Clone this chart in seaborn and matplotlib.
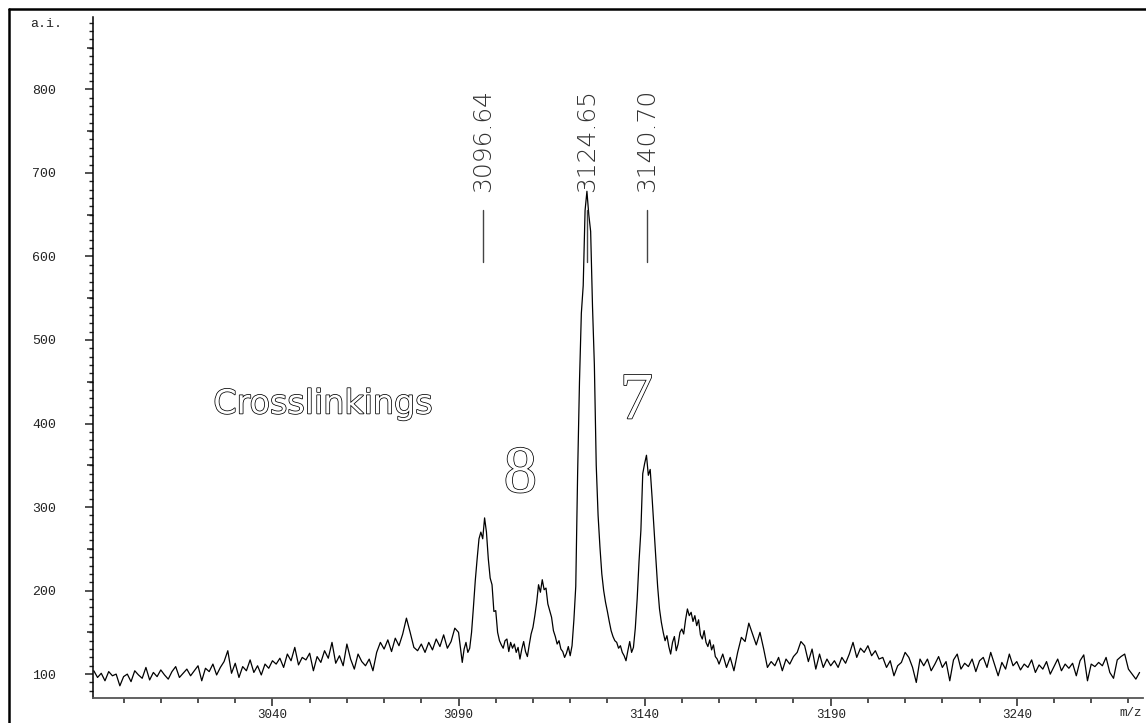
import numpy as np
import pandas as pd
import matplotlib
matplotlib.use("Agg")
import matplotlib.pyplot as plt
import matplotlib.patheffects as pe
from matplotlib.lines import Line2D
import seaborn as sns

# spectrum: 1 Da steps on the baseline, 0.5 Da steps across the peaks
low_start, low_step = 2992, 1.0
low_intensity = [
    104, 96, 101, 92, 103, 98, 100, 86, 97, 100, 91, 104, 99, 95, 108, 93, 102, 97, 105, 99,
    94, 103, 109, 96, 101, 106, 98, 104,
    110, 92, 107, 103, 112, 99, 108, 115, 128, 101, 113, 96, 109, 104, 117, 102, 110, 99, 112, 107, 116,
    112, 119, 108, 124, 116, 132, 111, 120, 117, 125, 104, 121, 114, 128, 119, 138, 113, 122, 110, 136,
    118, 106, 124, 115,
    110, 118, 104, 126, 138, 130, 141, 127, 143, 134, 148, 167, 150, 132, 128, 136, 126, 138, 129, 142,
    133, 147, 131, 139, 155,
]

peak_start, peak_step = 3090, 0.5
peak_intensity = [
    150, 132, 114, 130, 138, 126, 131, 150, 180, 212,
    238, 262, 270, 262, 287, 270, 238, 215, 207, 175,
    176, 150, 140, 135, 131, 140, 142, 127, 138, 131,
    136, 126, 132, 118, 130, 139, 127, 121, 135, 148,
    156, 170, 186, 207, 198, 213, 201, 203, 184, 176,
    168, 152, 145, 136, 140, 130, 127, 120, 125, 133,
    122, 134, 165, 205, 340, 450, 532, 565, 655, 678,
    650, 630, 540, 470, 350, 290, 252, 220, 200, 186,
    175, 163, 152, 145, 140, 138, 131, 134, 126, 122,
    116, 128, 139, 126, 132, 155, 190, 235, 272, 340,
    352, 362, 338, 345, 312, 275, 240, 205, 178, 162,
    150, 140, 146, 133, 124, 138, 145, 128, 136, 150,
    154, 148, 165, 178, 170, 174, 163, 170, 158, 165,
    147, 142, 152, 138, 133, 141, 129, 135, 121, 118,
]

high_start, high_step = 3160, 1.0
high_intensity = [
    112, 124, 108, 120, 104, 126, 144, 139, 161, 148,
    135, 150, 130, 108, 115, 110, 120, 104, 118, 112,
    121, 126, 139, 134, 115, 130, 106, 124, 108, 118,
    110, 116, 108, 120, 113, 124, 138, 120, 131, 126,
    134, 122, 128, 118, 120, 108, 116, 98, 110, 114,
    126, 120, 108, 90, 118, 110,
    118, 104, 112, 121, 108, 115, 92, 117, 124, 106,
    113, 109, 118, 103, 116, 120, 108, 126, 112, 98,
    114, 106, 124, 110, 115, 105, 112, 108, 117, 102,
    111, 106, 115, 100, 109, 118, 104, 112, 107, 113,
    98, 116, 123, 92, 112, 109, 114, 110, 120, 102,
    95, 117, 121, 124, 106, 100, 94, 102,
]

peak_labels = [3096.64, 3124.65, 3140.70]
x_major = [3040, 3090, 3140, 3190, 3240]
x_minor = list(range(3000, 3271, 10))
y_major = [100, 200, 300, 400, 500, 600, 700, 800]
y_mid = [150, 250, 350, 450, 550, 650, 750, 850]
y_minor = list(range(80, 881, 10))


def segment(start, step, values):
    return pd.DataFrame({"mz": start + step * np.arange(len(values)), "intensity": values})


spec = pd.concat([segment(low_start, low_step, low_intensity),
                  segment(peak_start, peak_step, peak_intensity),
                  segment(high_start, high_step, high_intensity)], ignore_index=True)

sns.set_style("ticks")
plt.rcParams["font.family"] = ["Liberation Mono", "DejaVu Sans Mono"]

W, H = 1146, 723
fig = plt.figure(figsize=(W / 100, H / 100), dpi=100)
ax = fig.add_axes([92.7 / W, 1 - 697.5 / H, (1143.3 - 92.7) / W, (697.5 - 16.7) / H])

sns.lineplot(data=spec, x="mz", y="intensity", ax=ax, color="black", lw=0.9)

ax.set_xlim(2991.7, 3274)
ax.set_ylim(72, 887)
ax.set_xlabel("")
ax.set_ylabel("")
for side in ["top", "right"]:
    ax.spines[side].set_visible(False)
ax.spines["left"].set_color("black")
ax.spines["left"].set_linewidth(1.1)
ax.spines["bottom"].set_color("#555555")
ax.spines["bottom"].set_linewidth(1.3)

ax.set_xticks(x_major)
ax.set_xticks(x_minor, minor=True)
ax.set_yticks(y_major)
ax.set_yticks(y_minor, minor=True)
ax.tick_params(axis="x", which="major", length=6.0, width=1.1, pad=2, labelsize=9,
               colors="#222222")
ax.tick_params(axis="x", which="minor", length=3.6, width=1.1, colors="#222222")
ax.tick_params(axis="y", which="major", length=5.5, width=1.1, pad=21, labelsize=9.5,
               colors="#222222")
ax.tick_params(axis="y", which="minor", length=3.0, width=1.0, colors="#222222")

# the 50-unit ticks on the intensity axis are a little longer than the 10-unit ones
mid = ax.secondary_yaxis("left")
mid.set_yticks(y_mid)
mid.set_yticklabels([""] * len(y_mid))
mid.tick_params(length=4.2, width=1.1, colors="#222222")
mid.spines["left"].set_visible(False)

fig.text(30 / W, 1 - 24 / H, "a.i.", ha="left", va="center", fontsize=9.5, color="#222222")
fig.text(1142 / W, 1 - 713 / H, "m/z", ha="right", va="center", fontsize=9, color="#222222")

# peak picks: short bar plus rotated mass label
for m in peak_labels:
    ax.plot([m, m], [593, 656], color="#444444", lw=1.0)
    ax.text(m, 677, f"{m:.2f}", rotation=90, ha="center", va="bottom", fontsize=18,
            family=["DejaVu Sans"], fontweight="light", color="#333333")

hollow = [pe.Stroke(linewidth=1.1, foreground="black"), pe.Normal()]
ax.text(3053.6, 412, "Crosslinkings", ha="center", va="baseline", fontsize=24,
        family=["DejaVu Sans"], color="white", path_effects=hollow)
ax.text(3106.6, 318, "8", ha="center", va="baseline", fontsize=48,
        family=["Liberation Serif", "DejaVu Serif"], color="white", path_effects=hollow)
ax.text(3137.8, 406, "7", ha="center", va="baseline", fontsize=48,
        family=["Liberation Serif", "DejaVu Serif"], color="white", path_effects=hollow)

# frame round the scanned figure
fig.add_artist(Line2D([8.7 / W, 8.7 / W], [0, 1 - 8.7 / H], transform=fig.transFigure,
                      color="black", lw=1.8))
fig.add_artist(Line2D([8.7 / W, 1], [1 - 8.7 / H, 1 - 8.7 / H], transform=fig.transFigure,
                      color="black", lw=1.8))

fig.savefig("out.png", dpi=100)
plt.close(fig)
